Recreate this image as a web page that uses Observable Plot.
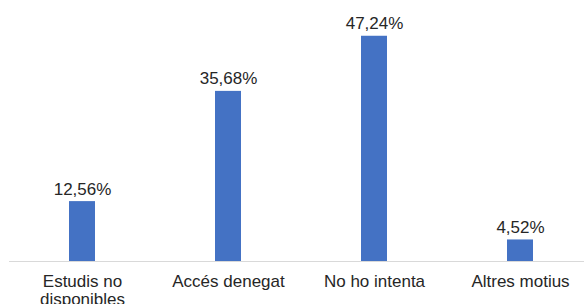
<!DOCTYPE html>
<html>
<head>
<meta charset="utf-8">
<script src="https://cdn.jsdelivr.net/npm/d3@7"></script>
<script src="https://cdn.jsdelivr.net/npm/@observablehq/plot@0.6"></script>
<style>
  html, body { margin: 0; padding: 0; background: #fff; overflow: hidden; }
  #chart svg { display: block; }
</style>
</head>
<body>
<div id="chart"></div>
<script>
const categories = ["Estudis no\ndisponibles", "Accés denegat", "No ho intenta", "Altres motius"];
const values = [12.56, 35.68, 47.24, 4.52];
const valueLabels = ["12,56%", "35,68%", "47,24%", "4,52%"];

const data = categories.map((c, i) => ({cat: c, value: values[i], label: valueLabels[i]}));

const chart = Plot.plot({
  width: 584,
  height: 304,
  marginLeft: 9,
  marginRight: 0,
  marginTop: 0,
  marginBottom: 43,
  style: {fontFamily: "'Liberation Sans', Arial, sans-serif", fontSize: "17px", color: "#262626", background: "#fff"},
  x: {type: "band", domain: categories, range: [9.5, 593.5], paddingInner: 0.82, paddingOuter: 0.41, label: null},
  y: {domain: [0, 50], range: [261, 22.6], axis: null},
  marks: [
    Plot.barY(data, {x: "cat", y: "value", fill: "#4472C4"}),
    Plot.ruleY([0], {stroke: "#d9d9d9", strokeWidth: 1}),
    Plot.text(data, {x: "cat", y: "value", text: "label", lineAnchor: "bottom", dy: -7, fontSize: 17, fill: "#262626"}),
    Plot.axisX({tickSize: 0, tickPadding: 12, fontSize: 17, lineHeight: 1.1, lineAnchor: "top", fill: "#262626", label: null})
  ]
});
document.getElementById("chart").appendChild(chart);
</script>
</body>
</html>
